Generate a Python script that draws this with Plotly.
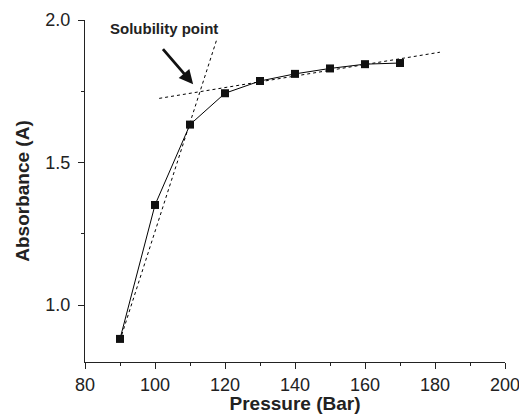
import plotly.graph_objects as go

pressure = [90, 100, 110, 120, 130, 140, 150, 160, 170]
absorbance = [0.881, 1.351, 1.633, 1.743, 1.786, 1.811, 1.830, 1.845, 1.849]

steep_fit_x = [90.5, 117.6]
steep_fit_y = [0.895, 1.93]
flat_fit_x = [101.2, 181.4]
flat_fit_y = [1.725, 1.887]

x_ticks = [80, 100, 120, 140, 160, 180, 200]
y_ticks = [1.0, 1.5, 2.0]

font_family = "Liberation Sans, Arial, sans-serif"

fig = go.Figure()
fig.add_trace(go.Scatter(x=steep_fit_x, y=steep_fit_y, mode="lines",
                         line=dict(color="black", width=1, dash="dot"), showlegend=False))
fig.add_trace(go.Scatter(x=flat_fit_x, y=flat_fit_y, mode="lines",
                         line=dict(color="black", width=1, dash="dot"), showlegend=False))
fig.add_trace(go.Scatter(x=pressure, y=absorbance, mode="lines+markers",
                         line=dict(color="black", width=1),
                         marker=dict(symbol="square", size=8, color="#111111"),
                         showlegend=False))

fig.add_annotation(x=110.9, y=1.775, ax=101.9, ay=1.903, xref="x", yref="y",
                   axref="x", ayref="y", text="", showarrow=True,
                   arrowhead=2, arrowsize=1, arrowwidth=2.8, arrowcolor="#111111")
fig.add_annotation(x=102.5, y=1.97, xref="x", yref="y", text="<b>Solubility point</b>",
                   showarrow=False, font=dict(size=15, color="#222222", family=font_family))

fig.update_layout(
    template="none",
    width=519, height=414,
    margin=dict(l=85, r=14, t=20, b=52, pad=0),
    paper_bgcolor="white", plot_bgcolor="white",
    font=dict(family=font_family, color="#222222"),
    xaxis=dict(range=[80, 200], tickvals=x_ticks, ticks="outside", ticklen=6,
               tickcolor="#222222", automargin=False, ticklabeloverflow="allow",
               showline=True, linecolor="#222222", linewidth=1, showgrid=False,
               zeroline=False, tickfont=dict(size=18, color="#222222"),
               minor=dict(dtick=10, ticks="outside", ticklen=3, tickcolor="#222222"),
               title=dict(text="<b>Pressure (Bar)</b>", font=dict(size=19), standoff=0)),
    yaxis=dict(range=[0.8, 2.0], tickvals=y_ticks, tickformat=".1f", ticks="outside",
               ticklen=6, tickcolor="#222222", automargin=False, ticklabelstandoff=4,
               showline=True, linecolor="#222222", linewidth=1,
               showgrid=False, zeroline=False, tickfont=dict(size=18, color="#222222"),
               minor=dict(dtick=0.25, ticks="outside", ticklen=3, tickcolor="#222222"),
               title=dict(text="<b>Absorbance (A)</b>", font=dict(size=19), standoff=10)),
)

fig.write_html("out.html", config={"displayModeBar": False},
               post_script="document.body.style.margin='0';document.body.style.overflow='hidden';")
